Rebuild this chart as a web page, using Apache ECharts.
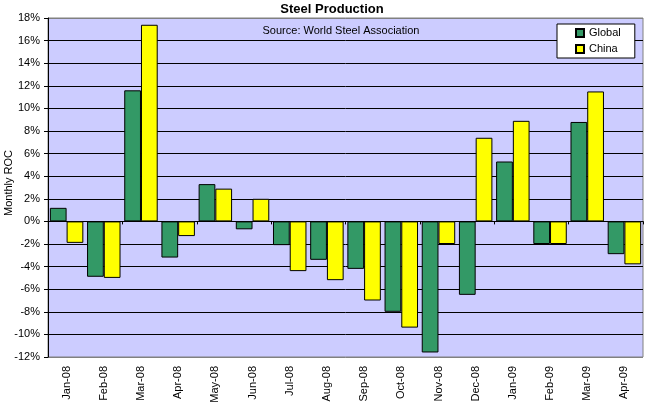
<!DOCTYPE html>
<html>
<head>
<meta charset="utf-8">
<script src="https://cdn.jsdelivr.net/npm/echarts@6/dist/echarts.min.js"></script>
<style>
html,body{margin:0;padding:0;background:#fff;}
#c{width:646px;height:403px;}
</style>
</head>
<body>
<div id="c"></div>
<script>
const categories = ['Jan-08','Feb-08','Mar-08','Apr-08','May-08','Jun-08','Jul-08','Aug-08','Sep-08','Oct-08','Nov-08','Dec-08','Jan-09','Feb-09','Mar-09','Apr-09'];
const globalValues = [1.2, -4.9, 11.6, -3.2, 3.3, -0.7, -2.1, -3.4, -4.2, -8.0, -11.6, -6.5, 5.3, -2.0, 8.8, -2.9];
const chinaValues  = [-1.9, -5.0, 17.4, -1.3, 2.9, 2.0, -4.4, -5.2, -7.0, -9.4, -2.0, 7.4, 8.9, -2.0, 11.5, -3.8];
const yTicks = {min: -12, max: 18, interval: 2};

const font = 'Arial, "Liberation Sans", sans-serif';
const splitColors = [];
for (let i = 0; i <= (yTicks.max - yTicks.min) / yTicks.interval; i++) splitColors.push('#000');
splitColors[0] = '#808080';
splitColors[splitColors.length - 1] = '#808080';

const chart = echarts.init(document.getElementById('c'), null, {renderer: 'canvas'});
chart.setOption({
  animation: false,
  backgroundColor: '#ffffff',
  title: [
    {text: 'Steel Production', left: 327, top: -2, textAlign: 'center',
     textStyle: {fontFamily: font, fontSize: 13, fontWeight: 'bold', color: '#000'}},
    {text: 'Source: World Steel Association', left: 336, top: 20, textAlign: 'center',
     textStyle: {fontFamily: font, fontSize: 11, fontWeight: 'normal', color: '#000'}}
  ],
  legend: {
    orient: 'vertical', left: 557, top: 24,
    backgroundColor: '#fff', borderColor: '#000', borderWidth: 1,
    padding: [3, 14, 3, 18], itemGap: 4, itemWidth: 8, itemHeight: 8,
    icon: 'rect',
    textStyle: {fontFamily: font, fontSize: 11, color: '#000', lineHeight: 12},
    data: ['Global', 'China']
  },
  grid: {left: 48, right: 3, top: 18, bottom: 46, show: true, containLabel: false,
         outerBoundsMode: 'none',
         backgroundColor: '#CCCCFF', borderColor: '#808080', borderWidth: 1},
  xAxis: [
    {type: 'category', data: categories, gridIndex: 0, position: 'bottom',
     axisLine: {show: false, onZero: false},
     axisTick: {show: false},
     axisLabel: {rotate: 90, margin: 9, fontFamily: font, fontSize: 11, color: '#000', interval: 0},
     splitLine: {show: false}},
    {type: 'category', data: categories, gridIndex: 0, position: 'bottom',
     axisLine: {show: true, onZero: true, lineStyle: {color: '#000', width: 1}},
     axisTick: {show: true, length: 3, lineStyle: {color: '#000'}},
     axisLabel: {show: false},
     splitLine: {show: false}}
  ],
  yAxis: {
    type: 'value', min: yTicks.min, max: yTicks.max, interval: yTicks.interval,
    name: 'Monthly ROC', nameLocation: 'middle', nameGap: 34, nameMoveOverlap: false,
    nameTextStyle: {fontFamily: font, fontSize: 11, color: '#000', padding: [0, 0, 0, 9]},
    axisLine: {show: true, lineStyle: {color: '#000'}},
    axisTick: {show: true, length: 4, lineStyle: {color: '#000'}},
    axisLabel: {margin: 8, fontFamily: font, fontSize: 11, color: '#000', formatter: v => v + '%'},
    splitLine: {show: true, lineStyle: {color: splitColors, width: 1}}
  },
  series: [
    {name: 'Global', type: 'bar', xAxisIndex: 0, data: globalValues,
     barGap: '0%', barCategoryGap: '10%',
     itemStyle: {color: '#339966', borderColor: '#000', borderWidth: 1}},
    {name: 'China', type: 'bar', xAxisIndex: 0, data: chinaValues,
     barGap: '0%', barCategoryGap: '10%',
     itemStyle: {color: '#FFFF00', borderColor: '#000', borderWidth: 1}}
  ]
});
</script>
</body>
</html>
